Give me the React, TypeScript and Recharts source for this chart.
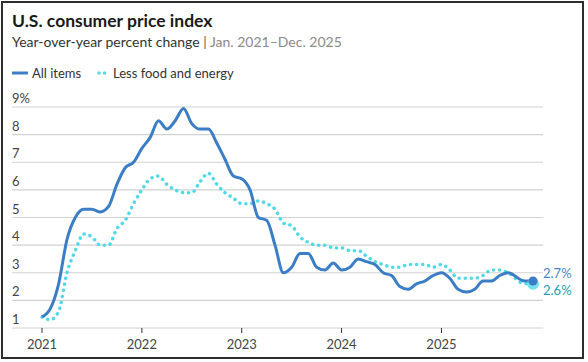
import { CartesianGrid, Line, LineChart, XAxis, YAxis } from "recharts";

const years = ["2021", "2022", "2023", "2024", "2025"];
const yTicks = [1, 2, 3, 4, 5, 6, 7, 8, 9];

// monthly, Jan 2021 - Dec 2025 (Oct 2025 not published)
const allItems = [
  1.4, 1.7, 2.6, 4.2, 5.0, 5.3, 5.3, 5.2, 5.4, 6.2, 6.8, 7.0,
  7.5, 7.9, 8.5, 8.2, 8.5, 8.95, 8.4, 8.2, 8.2, 7.7, 7.1, 6.5,
  6.4, 6.0, 5.0, 4.9, 4.0, 3.0, 3.2, 3.7, 3.7, 3.2, 3.1, 3.35,
  3.1, 3.2, 3.5, 3.4, 3.3, 3.0, 2.9, 2.5, 2.4, 2.6, 2.7, 2.9,
  3.0, 2.8, 2.4, 2.3, 2.4, 2.7, 2.7, 2.9, 3.0, null, 2.7, 2.7,
];

const lessFoodEnergy = [
  1.4, 1.3, 1.6, 3.0, 3.8, 4.4, 4.3, 4.0, 4.0, 4.6, 4.9, 5.5,
  6.0, 6.4, 6.5, 6.2, 6.0, 5.9, 5.9, 6.3, 6.6, 6.2, 5.9, 5.7,
  5.5, 5.5, 5.6, 5.5, 5.3, 4.8, 4.7, 4.3, 4.1, 4.0, 4.0, 3.9,
  3.9, 3.8, 3.8, 3.6, 3.4, 3.3, 3.2, 3.2, 3.3, 3.3, 3.3, 3.2,
  3.3, 3.1, 2.8, 2.8, 2.8, 2.9, 3.1, 3.1, 3.0, null, 2.6, 2.6,
];

const BLUE = "#3c7ec6";
const CYAN = "#52d9e8";
const FONT = "Lato, 'Open Sans', sans-serif";

const data = allItems.map((v, i) => ({ i, all: v, core: lessFoodEnergy[i] }));
const last = data.length - 1;

function renderYTick(props: any) {
  const { y, payload, index } = props;
  return (
    <text key={`y${index}`} x={12} y={y - 4} fontSize={13} fill="#444" fontFamily={FONT} textAnchor="start">
      {payload.value === 9 ? "9%" : String(payload.value)}
    </text>
  );
}

function AllDot(props: any) {
  const { cx, cy, index } = props;
  if (index !== last) return <g key={`a${index}`} />;
  return (
    <g key={`a${index}`}>
      <circle cx={cx} cy={cy} r={4.5} fill={BLUE} />
      <text x={cx + 10} y={cy - 3} fontSize={13} fill="#4a86c6" fontFamily={FONT}>
        2.7%
      </text>
    </g>
  );
}

function CoreDot(props: any) {
  const { cx, cy, index } = props;
  if (index !== last) return <g key={`c${index}`} />;
  return (
    <g key={`c${index}`}>
      <circle cx={cx} cy={cy} r={6} fill={CYAN} opacity={0.8} />
      <text x={cx + 10} y={cy + 11} fontSize={13} fill="#2b9db0" fontFamily={FONT}>
        2.6%
      </text>
    </g>
  );
}

export default function App() {
  return (
    <div style={{ position: "fixed", left: 0, top: 0, width: 588, height: 362, background: "#fff" }}>
      <LineChart
        width={588}
        height={362}
        data={data}
        margin={{ top: 107, right: 45, bottom: 8, left: 0 }}
      >
        <CartesianGrid vertical={false} stroke="#d2d2d2" strokeWidth={1.2} />
        <XAxis
          dataKey="i"
          type="number"
          domain={[0, 59]}
          ticks={[0, 12, 24, 36, 48]}
          tickFormatter={(v: number) => years[v / 12]}
          padding={{ left: 30, right: 10 }}
          height={26}
          axisLine={false}
          tickLine={{ stroke: "#333" }}
          tickSize={5}
          tickMargin={7}
          tick={{ fontSize: 13, fill: "#444", fontFamily: FONT }}
        />
        <YAxis
          type="number"
          domain={[1, 9]}
          ticks={yTicks}
          interval={0}
          width={12}
          axisLine={false}
          tickLine={false}
          tick={renderYTick}
        />
        <Line
          type="monotone"
          dataKey="core"
          stroke={CYAN}
          strokeWidth={3.5}
          strokeDasharray="0.1 6"
          strokeLinecap="round"
          connectNulls
          dot={<CoreDot />}
          activeDot={false}
          isAnimationActive={false}
        />
        <Line
          type="monotone"
          dataKey="all"
          stroke={BLUE}
          strokeWidth={3}
          connectNulls
          dot={<AllDot />}
          activeDot={false}
          isAnimationActive={false}
        />
      </LineChart>
      <svg
        width={588}
        height={362}
        style={{ position: "absolute", left: 0, top: 0, pointerEvents: "none" }}
      >
        <text x={12} y={27} fontSize={17.5} fontWeight={700} fill="#1a1a1a" fontFamily={FONT}>
          U.S. consumer price index
        </text>
        <text x={12} y={47} fontSize={14} fill="#333" fontFamily={FONT}>
          Year-over-year percent change <tspan fill="#666">|</tspan>
          <tspan fill="#8a8a8a"> Jan. 2021–Dec. 2025</tspan>
        </text>
        <line x1={12} y1={73} x2={28} y2={73} stroke={BLUE} strokeWidth={3} />
        <text x={32} y={77.5} fontSize={13} fill="#333" fontFamily={FONT}>
          All items
        </text>
        <circle cx={99} cy={73} r={1.7} fill={CYAN} />
        <circle cx={104.5} cy={73} r={1.7} fill={CYAN} />
        <text x={113} y={77.5} fontSize={13} fill="#333" fontFamily={FONT}>
          Less food and energy
        </text>
      </svg>
      <div
        style={{
          position: "absolute",
          left: 1,
          top: 1,
          width: 583,
          height: 358,
          border: "2px solid #2e2e2e",
          boxSizing: "border-box",
          pointerEvents: "none",
        }}
      />
    </div>
  );
}
